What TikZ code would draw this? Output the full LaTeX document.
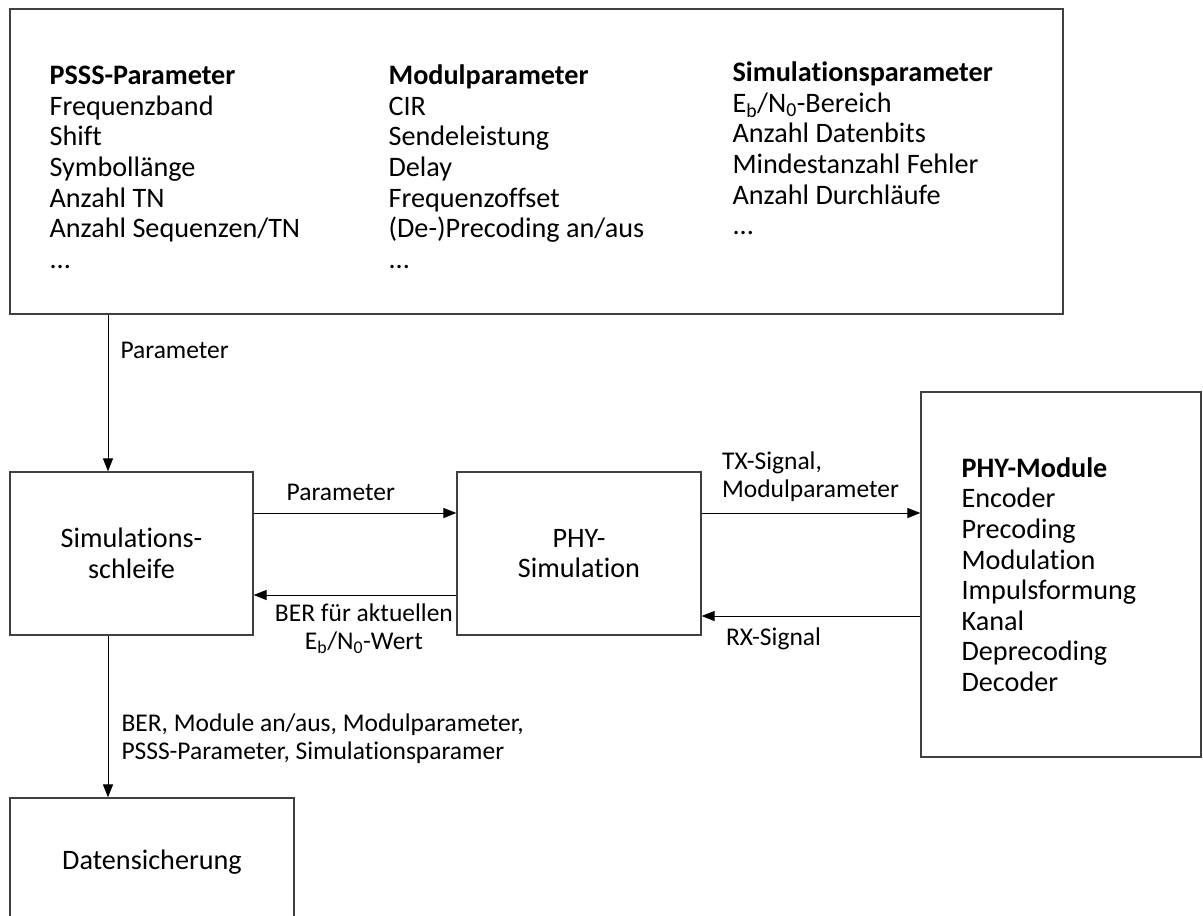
\documentclass[tikz,border=0pt]{standalone}
\usepackage{fontspec}
\setmainfont{Carlito}[Ligatures=CommonOff]
\usetikzlibrary{arrows.meta}
\newcommand{\ebno}{E\textsubscript{b}/N\textsubscript{0}}
\newcommand{\tiq}{t\kern0pt i}

\begin{document}
\begin{tikzpicture}[x=1pt, y=-1pt,
    main/.style = {draw=black!75, line width=1.2pt, rectangle, inner sep=0pt, align=center, font=\fontsize{28.2}{30.6}\selectfont},
    txt/.style = {inner sep=0pt, align=left, font=\fontsize{28.2}{30.6}\selectfont},
    lbl/.style = {inner sep=0pt, font=\fontsize{25.5}{28}\selectfont},
    arr/.style = {-{Triangle[length=13pt,width=10pt]}, line width=1pt}]
    \useasboundingbox (0,0) rectangle (1203,916);
    \node[main, minimum width=1053pt, minimum height=305pt] (1) at (536.5,161.5) {};
    \node[main, minimum width=243pt, minimum height=163pt] (2) at (131.5,553.5) {Simula\tiq ons-\\schleife};
    \node[main, minimum width=244pt, minimum height=163pt] (3) at (579,553.5) {PHY-\\Simula\tiq on};
    \node[main, minimum width=280pt, minimum height=365pt] (4) at (1061,574.5) {};
    \node[main, minimum width=284pt, minimum height=128pt] (5) at (152,862) {Datensicherung};
    \node[txt, anchor=north west] (1a) at ([xshift=40pt,yshift=-54.6pt]1.north west) {\strut\textbf{PSSS-Parameter}\\Frequenzband\\Shift\\Symbollänge\\Anzahl TN\\Anzahl Sequenzen/TN\\...};
    \node[txt, anchor=north west] (1b) at ([xshift=379pt,yshift=-54.6pt]1.north west) {\strut\textbf{Modulparameter}\\CIR\\Sendeleistung\\Delay\\Frequenzoffset\\(De-)Precoding an/aus\\...};
    \node[txt, anchor=north west] (1c) at ([xshift=723pt,yshift=-51.6pt]1.north west) {\strut\textbf{Simula\tiq onsparameter}\\\ebno-Bereich\\Anzahl Datenbits\\Mindestanzahl Fehler\\Anzahl Durchläufe\\...};
    \node[txt, anchor=west] (4a) at ([xshift=41pt]4.west) {\textbf{PHY-Module}\\Encoder\\Precoding\\Modula\tiq on\\Impulsformung\\Kanal\\Deprecoding\\Decoder};
    \draw[arr] ([xshift=-23.5pt]2.north |- 1.south) -- ([xshift=-23.5pt]2.north) node[lbl, pos=0.228, anchor=west, xshift=12pt] {Parameter};
    \draw[arr] ([yshift=40.5pt]2.east) -- ([yshift=40.5pt]2.east -| 3.west) node[lbl, pos=0.43, anchor=south, yshift=12pt] {Parameter};
    \draw[arr] ([yshift=-41.5pt]3.west) -- ([yshift=-41.5pt]3.west -| 2.east) node[lbl, pos=0.456, anchor=north, yshift=-6.4pt, align=center] {\strut BER für aktuellen\\\ebno-Wert};
    \draw[arr] ([yshift=40.5pt]3.east) -- ([yshift=40.5pt]3.east -| 4.west) node[lbl, pos=0, anchor=south west, xshift=20pt, yshift=6.6pt, align=left] {TX-Signal,\\Modulparameter\strut};
    \draw[arr] ([yshift=-41.5pt]4.west) -- ([yshift=-41.5pt]4.west -| 3.east) node[lbl, pos=1, anchor=north west, xshift=24pt, yshift=-9.4pt] {\strut RX-Signal};
    \draw[arr] ([xshift=-23.5pt]2.south) -- ([xshift=-23.5pt]2.south |- 5.north) node[lbl, pos=0.469, anchor=north west, xshift=13pt, align=left] {\strut BER, Module an/aus, Modulparameter,\\PSSS-Parameter, Simula\tiq onsparamer};
\end{tikzpicture}
\end{document}
